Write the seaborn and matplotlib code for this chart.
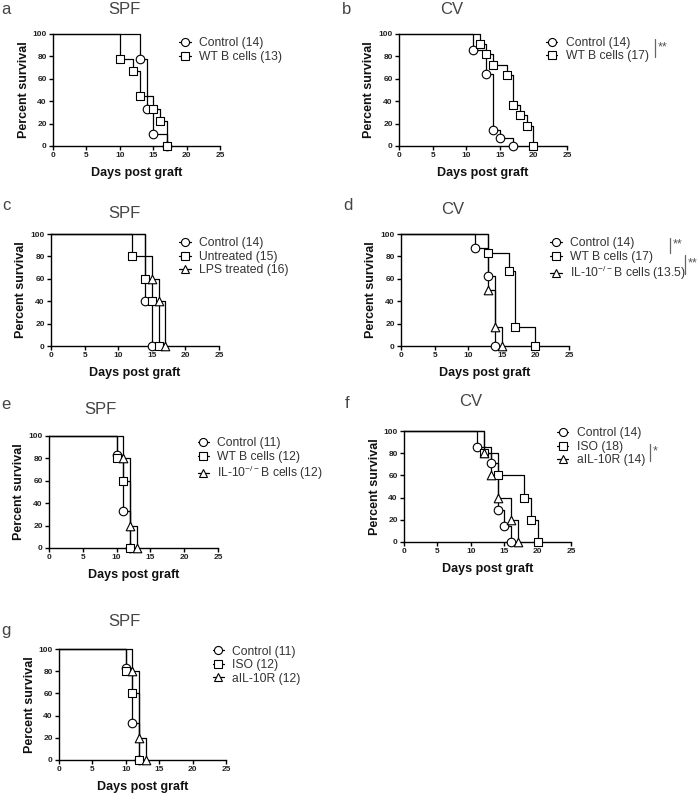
import pandas as pd
import matplotlib
matplotlib.use("Agg")
import matplotlib.pyplot as plt
from matplotlib.lines import Line2D
import seaborn as sns

# Figure size in pixels (saved at dpi=100).
W, H = 700, 796

sns.set_theme(style="ticks")
plt.rcParams["font.family"] = ["Liberation Sans", "DejaVu Sans"]
plt.rcParams["mathtext.default"] = "regular"

# ---- Data: day of each death and percent survival after it ----
# a - SPF
days_a_ctrl = [13, 14, 15, 17]
surv_a_ctrl = [77.8, 33.3, 11.1, 0]
days_a_wtb = [10, 12, 13, 15, 16, 17]
surv_a_wtb = [77.8, 66.7, 44.4, 33.3, 22.2, 0]

# b - CV
days_b_ctrl = [11, 13, 14, 15, 17]
surv_b_ctrl = [85.7, 64.3, 14.3, 7.1, 0]
days_b_wtb = [12, 13, 14, 16, 17, 18, 19, 20]
surv_b_wtb = [90.9, 81.8, 72.7, 63.6, 36.4, 27.3, 18.2, 0]

# c - SPF
days_c_ctrl = [14, 15]
surv_c_ctrl = [40, 0]
days_c_untr = [12, 14, 15, 16]
surv_c_untr = [80, 60, 40, 0]
days_c_lps = [14, 15, 16, 17]
surv_c_lps = [80, 60, 40, 0]
no_symbol_c_lps = [14]  # no symbol drawn on this step in the original

# d - CV
days_d_ctrl = [11, 13, 14]
surv_d_ctrl = [87.5, 62.5, 0]
days_d_wtb = [13, 16, 17, 20]
surv_d_wtb = [83.3, 66.7, 16.7, 0]
days_d_il10 = [13, 14, 15]
surv_d_il10 = [50, 16.7, 0]

# e - SPF
days_e_ctrl = [10, 11, 12]
surv_e_ctrl = [83.3, 33.3, 0]
days_e_wtb = [10, 11, 12]
surv_e_wtb = [80, 60, 0]
days_e_il10 = [11, 12, 13]
surv_e_il10 = [80, 20, 0]

# f - CV
days_f_ctrl = [11, 13, 14, 15, 16]
surv_f_ctrl = [85.7, 71.4, 28.6, 14.3, 0]
days_f_iso = [12, 14, 18, 19, 20]
surv_f_iso = [80, 60, 40, 20, 0]
days_f_ail = [12, 13, 14, 16, 17]
surv_f_ail = [80, 60, 40, 20, 0]

# g - SPF
days_g_ctrl = [10, 11, 12]
surv_g_ctrl = [83.3, 33.3, 0]
days_g_iso = [10, 11, 12]
surv_g_iso = [80, 60, 0]
days_g_ail = [11, 12, 13]
surv_g_ail = [80, 20, 0]

IL10 = r"IL-10$^{-/-}$B cells"

# ---- Layout of each panel (pixel positions) ----
PANELS = [
    dict(letter="a", title="SPF", box=(53, 34, 220, 146), title_xy=(124, 10), letter_xy=(6, 10),
         legend_xy=(185, 43.3), stars=[],
         series=[("Control (14)", "o", days_a_ctrl, surv_a_ctrl, []),
                 ("WT B cells (13)", "s", days_a_wtb, surv_a_wtb, [])]),
    dict(letter="b", title="CV", box=(399, 34, 567, 146), title_xy=(452, 10), letter_xy=(347, 10),
         legend_xy=(551.7, 43), stars=[(655, 39, 57, "**")],
         series=[("Control (14)", "o", days_b_ctrl, surv_b_ctrl, []),
                 ("WT B cells (17)", "s", days_b_wtb, surv_b_wtb, [])]),
    dict(letter="c", title="SPF", box=(51, 234, 219, 346), title_xy=(124, 213), letter_xy=(6, 206),
         legend_xy=(185, 243.3), stars=[],
         series=[("Control (14)", "o", days_c_ctrl, surv_c_ctrl, []),
                 ("Untreated (15)", "s", days_c_untr, surv_c_untr, []),
                 ("LPS treated (16)", "^", days_c_lps, surv_c_lps, no_symbol_c_lps)]),
    dict(letter="d", title="CV", box=(401, 234, 569, 346), title_xy=(453, 209), letter_xy=(348, 205),
         legend_xy=(556, 243.3), stars=[(670, 238, 253, "**"), (685, 255, 274, "**")],
         series=[("Control (14)", "o", days_d_ctrl, surv_d_ctrl, []),
                 ("WT B cells (17)", "s", days_d_wtb, surv_d_wtb, []),
                 (IL10 + " (13.5)", "^", days_d_il10, surv_d_il10, [])]),
    dict(letter="e", title="SPF", box=(49, 436, 218, 548), title_xy=(100, 409), letter_xy=(6, 405),
         legend_xy=(203.3, 443.3), stars=[],
         series=[("Control (11)", "o", days_e_ctrl, surv_e_ctrl, []),
                 ("WT B cells (12)", "s", days_e_wtb, surv_e_wtb, []),
                 (IL10 + " (12)", "^", days_e_il10, surv_e_il10, [])]),
    dict(letter="f", title="CV", box=(404, 431, 571, 542), title_xy=(471, 402), letter_xy=(347, 403),
         legend_xy=(562.7, 433.3), stars=[(650, 444, 461, "*")],
         series=[("Control (14)", "o", days_f_ctrl, surv_f_ctrl, []),
                 ("ISO (18)", "s", days_f_iso, surv_f_iso, []),
                 ("aIL-10R (14)", "^", days_f_ail, surv_f_ail, [])]),
    dict(letter="g", title="SPF", box=(59, 649, 226, 760), title_xy=(124, 621), letter_xy=(6, 630),
         legend_xy=(218.3, 651.7), stars=[],
         series=[("Control (11)", "o", days_g_ctrl, surv_g_ctrl, []),
                 ("ISO (12)", "s", days_g_iso, surv_g_iso, []),
                 ("aIL-10R (12)", "^", days_g_ail, surv_g_ail, [])]),
]

MARKER_SIZE = {"o": 38, "s": 34, "^": 38}
LEGEND_FS = 8.7


def fx(px):
    return px / W


def fy(py):
    return 1 - py / H


def draw_panel(fig, p):
    left, top, right, bottom = p["box"]
    ax = fig.add_axes([fx(left), fy(bottom), (right - left) / W, (bottom - top) / H])

    for label, marker, days, surv, hidden in p["series"]:
        # Kaplan-Meier step curve starting at 100 % on day 0
        curve = pd.DataFrame({"day": [0] + days, "surv": [100] + surv})
        sns.lineplot(data=curve, x="day", y="surv", drawstyle="steps-post", estimator=None,
                     sort=False, color="black", linewidth=0.9, clip_on=False, ax=ax)
        pts = pd.DataFrame({"day": days, "surv": surv})
        pts = pts[~pts["day"].isin(hidden)]
        sns.scatterplot(data=pts, x="day", y="surv", marker=marker, s=MARKER_SIZE[marker],
                        color="white", edgecolor="black", linewidth=0.8, clip_on=False,
                        zorder=3, ax=ax)

    ax.set_xlim(0, 25)
    ax.set_ylim(0, 100)
    ax.set_xticks(range(0, 26, 5))
    ax.set_yticks(range(0, 101, 20))
    sns.despine(ax=ax)
    for side in ("left", "bottom"):
        ax.spines[side].set_linewidth(1.0)
        ax.spines[side].set_color("black")
    ax.tick_params(length=3, width=1.0, pad=1.5, labelsize=6, colors="black", labelcolor="#222222")
    for lab in ax.get_xticklabels() + ax.get_yticklabels():
        lab.set_fontweight("bold")

    ax.set_xlabel("Days post graft", fontsize=9, fontweight="bold", color="#111111")
    ax.set_ylabel("Percent survival", fontsize=9, fontweight="bold", color="#111111")
    ax.xaxis.set_label_coords(0.5, -0.1875)
    ax.yaxis.set_label_coords(-0.14, 0.5)

    # Title and panel letter
    fig.text(fx(p["title_xy"][0]), fy(p["title_xy"][1]), p["title"], fontsize=12,
             color="#444444", ha="center", va="center")
    fig.text(fx(p["letter_xy"][0]), fy(p["letter_xy"][1]), p["letter"], fontsize=12,
             color="#444444", ha="center", va="center")

    # Legend: symbol with a short line through it
    handles = [Line2D([], [], color="black", lw=0.9, marker=m, markersize=5.8,
                      markerfacecolor="white", markeredgecolor="black", markeredgewidth=0.8)
               for _, m, _, _, _ in p["series"]]
    labels = [s[0] for s in p["series"]]
    hx, hy = p["legend_xy"]
    hl = 0.95
    fig.legend(handles, labels, loc="upper left",
               bbox_to_anchor=(fx(hx - hl * LEGEND_FS * 100 / 72 / 2), fy(hy - 6)),
               frameon=False, fontsize=LEGEND_FS, handlelength=hl, handletextpad=0.7,
               labelspacing=0.12, borderpad=0, borderaxespad=0, labelcolor="#333333")

    # Significance marks
    for x, y0, y1, txt in p["stars"]:
        fig.add_artist(Line2D([fx(x), fx(x)], [fy(y0), fy(y1)], color="#666666", lw=0.9))
        fig.text(fx(x + 2.5), fy((y0 + y1) / 2 - 1), txt, fontsize=9, color="#555555",
                 ha="left", va="center")
    return ax


fig = plt.figure(figsize=(W / 100, H / 100), dpi=100)
for panel in PANELS:
    draw_panel(fig, panel)

fig.savefig("out.png", dpi=100)
